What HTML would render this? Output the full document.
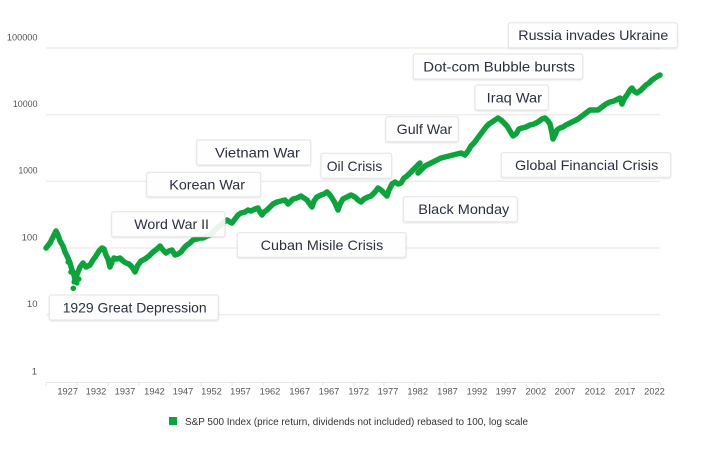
<!DOCTYPE html>
<html><head><meta charset="utf-8"><style>
html,body{margin:0;padding:0;background:#fff;}
svg{display:block;font-family:"Liberation Sans",sans-serif;}
.g{stroke:#e6e6e6;stroke-width:1;}
.yl{font-size:9.5px;fill:#555;text-anchor:end;}
.xl{font-size:9.3px;fill:#555;text-anchor:middle;}
.bx{fill:#fff;fill-opacity:0.9;stroke:#e3e3e3;stroke-width:1;}
.bt{font-size:14px;fill:#2b3041;}
</style></head><body>
<svg width="704" height="450" viewBox="0 0 704 450" xmlns="http://www.w3.org/2000/svg">
<defs>
<filter id="sh" x="-10%" y="-20%" width="120%" height="150%"><feDropShadow dx="0" dy="1" stdDeviation="0.8" flood-color="#000" flood-opacity="0.10"/></filter>
</defs>
<!-- gridlines -->
<line class="g" x1="46" y1="48" x2="660" y2="48"/>
<line class="g" x1="46" y1="114.7" x2="660" y2="114.7"/>
<line class="g" x1="46" y1="181.3" x2="660" y2="181.3"/>
<line class="g" x1="46" y1="248" x2="660" y2="248"/>
<line class="g" x1="46" y1="314.7" x2="660" y2="314.7"/>
<line class="g" x1="46" y1="382.5" x2="660" y2="382.5"/>
<!-- y labels -->
<text class="yl" x="37.5" y="40.5" textLength="30.6" lengthAdjust="spacingAndGlyphs">100000</text>
<text class="yl" x="37.5" y="107" textLength="24.6" lengthAdjust="spacingAndGlyphs">10000</text>
<text class="yl" x="37.5" y="173.5" textLength="19" lengthAdjust="spacingAndGlyphs">1000</text>
<text class="yl" x="37.5" y="240.3">100</text>
<text class="yl" x="37.5" y="307">10</text>
<text class="yl" x="37" y="374.5">1</text>
<!-- x ticks -->
<g stroke="#e3e3e3" stroke-width="1">
<line x1="46" y1="382.5" x2="46" y2="386"/><line x1="77" y1="382.5" x2="77" y2="386"/><line x1="108" y1="382.5" x2="108" y2="386"/><line x1="139" y1="382.5" x2="139" y2="386"/><line x1="170" y1="382.5" x2="170" y2="386"/><line x1="201" y1="382.5" x2="201" y2="386"/><line x1="232" y1="382.5" x2="232" y2="386"/><line x1="263" y1="382.5" x2="263" y2="386"/><line x1="293" y1="382.5" x2="293" y2="386"/><line x1="323" y1="382.5" x2="323" y2="386"/><line x1="354" y1="382.5" x2="354" y2="386"/><line x1="384" y1="382.5" x2="384" y2="386"/><line x1="415" y1="382.5" x2="415" y2="386"/><line x1="445" y1="382.5" x2="445" y2="386"/><line x1="476" y1="382.5" x2="476" y2="386"/><line x1="506" y1="382.5" x2="506" y2="386"/><line x1="537" y1="382.5" x2="537" y2="386"/><line x1="568" y1="382.5" x2="568" y2="386"/><line x1="598" y1="382.5" x2="598" y2="386"/><line x1="629" y1="382.5" x2="629" y2="386"/><line x1="660" y1="382.5" x2="660" y2="386"/>
</g>
<!-- x labels -->
<g class="xl">
<text x="67.7" y="394.3">1927</text><text x="96" y="394.3">1932</text><text x="125" y="394.3">1937</text><text x="154.5" y="394.3">1942</text><text x="183" y="394.3">1947</text><text x="211.5" y="394.3">1952</text><text x="240.5" y="394.3">1957</text><text x="270" y="394.3">1962</text><text x="299.7" y="394.3">1967</text><text x="329" y="394.3">1967</text><text x="358.7" y="394.3">1972</text><text x="388" y="394.3">1977</text><text x="417.7" y="394.3">1982</text><text x="447.5" y="394.3">1987</text><text x="477" y="394.3">1992</text><text x="506" y="394.3">1997</text><text x="535.8" y="394.3">2002</text><text x="565" y="394.3">2007</text><text x="595" y="394.3">2012</text><text x="625" y="394.3">2017</text><text x="654.5" y="394.3">2022</text>
</g>
<!-- series -->
<g fill="none" stroke="#0aa43b" stroke-width="5.5" stroke-linejoin="round" stroke-linecap="round">
<polyline points="46,248 50,243 53,237 56,231 58,235 60,241 63,246 65,252 68,258 70,263 72,270 74,275 75,280 76,277 78,272 80,267 83,263 86,267 90,265 93,260 96,256 99,251 102,248 104,249 106,255 108,259 110,267 112,262 114,258 117,259 120,258 123,261 126,263 129,264 132,267 135,272 138,265 141,261 145,259 149,256 153,252 157,249 160,246 163,250 166,253 169,251 172,250 175,255 178,254 181,252 184,248 187,245 190,243 193,240 197,239 200,238 203,238 207,236 210,235 213,232 217,228 221,225 224,222 227,220 230,222 232,223 235,219 238,215 241,213 245,212 248,210 251,211 255,209 258,208 260,212 262,215 264,212 267,210 270,207 273,204 277,202 281,201 285,200 288,204 290,202 293,199 297,198 301,196 304,198 307,200 309,203 312,207 314,201 317,197 321,195 324,194 327,192 330,195 332,198 335,203 338,210 340,204 343,199 347,197 351,195 355,197 358,200 361,202 364,199 368,197 371,196 375,192 378,188 381,190 384,193 387,196 389,190 392,184 395,182 398,184 401,183 404,178 407,176 410,173 413,170 416,167 420,163"/>
<polyline points="418,173 421,170 425,166 429,164 433,162 437,160 441,158 445,157 449,156 453,155 457,154 461,153 465,155 468,151 471,146 474,143 477,139 480,135 483,131 486,127 489,124 492,122 495,120 498,118 501,120 504,123 507,126 510,131 513,136 516,134 519,129 522,128 526,127 530,125 534,124 538,122 542,119 545,118 548,121 550,124 552,133 553,139 555,135 557,130 560,128 563,127 566,125 570,123 574,121 578,119 582,116 586,113 590,110 594,110 598,110 602,107 606,104 610,102 614,101 618,99 620,98 622,104 624,99 627,95 630,90 632,88 634,91 637,93 640,91 643,88 646,85 649,83 652,80 655,78 658,76 660,75"/>
</g>
<g fill="#0aa43b">
<circle cx="73.3" cy="288.3" r="2.8"/><circle cx="71" cy="272" r="2.8"/><circle cx="74" cy="282" r="2.6"/><circle cx="77" cy="283" r="2.6"/><circle cx="79" cy="279" r="2.6"/><circle cx="68" cy="262" r="2.6"/>
</g>
<!-- annotation boxes -->
<g filter="url(#sh)">
<rect class="bx" x="508.3" y="22.7" width="169" height="25" rx="2"/>
<rect class="bx" x="413.3" y="54" width="169.4" height="25" rx="2"/>
<rect class="bx" x="475" y="85" width="73.3" height="25" rx="2"/>
<rect class="bx" x="385.7" y="116.7" width="72.6" height="25" rx="2"/>
<rect class="bx" x="501.3" y="152.7" width="169.4" height="24.6" rx="2"/>
<rect class="bx" x="403.3" y="196.7" width="114" height="25" rx="2"/>
<rect class="bx" x="196.7" y="140" width="114" height="25" rx="2"/>
<rect class="bx" x="146.7" y="172.3" width="114" height="24.4" rx="2"/>
<rect class="bx" x="111.7" y="211.7" width="113.3" height="25" rx="2"/>
<rect class="bx" x="237.3" y="232.7" width="168.7" height="24.6" rx="2"/>
<rect class="bx" x="321" y="153.3" width="70.7" height="25" rx="2"/>
<rect class="bx" x="49.3" y="295" width="169" height="25" rx="2"/>
</g>
<g class="bt">
<text x="518.3" y="40.2" textLength="150" lengthAdjust="spacingAndGlyphs">Russia invades Ukraine</text>
<text x="423.3" y="71.5" textLength="151.7" lengthAdjust="spacingAndGlyphs">Dot-com Bubble bursts</text>
<text x="486.7" y="102.5" textLength="55.3" lengthAdjust="spacingAndGlyphs">Iraq War</text>
<text x="396.7" y="134.2" textLength="55.6" lengthAdjust="spacingAndGlyphs">Gulf War</text>
<text x="515" y="170" textLength="143.3" lengthAdjust="spacingAndGlyphs">Global Financial Crisis</text>
<text x="418.3" y="214.2" textLength="91" lengthAdjust="spacingAndGlyphs">Black Monday</text>
<text x="215" y="157.5" textLength="85" lengthAdjust="spacingAndGlyphs">Vietnam War</text>
<text x="169.3" y="189.6" textLength="75.7" lengthAdjust="spacingAndGlyphs">Korean War</text>
<text x="134.3" y="229.2" textLength="74.7" lengthAdjust="spacingAndGlyphs">Word War II</text>
<text x="260.7" y="250" textLength="122.6" lengthAdjust="spacingAndGlyphs">Cuban Misile Crisis</text>
<text x="326.7" y="170.8" textLength="55.6" lengthAdjust="spacingAndGlyphs">Oil Crisis</text>
<text x="62.7" y="312.5" textLength="144" lengthAdjust="spacingAndGlyphs">1929 Great Depression</text>
</g>
<!-- legend -->
<rect x="169" y="417" width="8" height="8" fill="#0aa43b"/>
<text x="185" y="425" font-size="9.8" fill="#333" textLength="343" lengthAdjust="spacingAndGlyphs">S&amp;P 500 Index (price return, dividends not included) rebased to 100, log scale</text>
</svg>
</body></html>
